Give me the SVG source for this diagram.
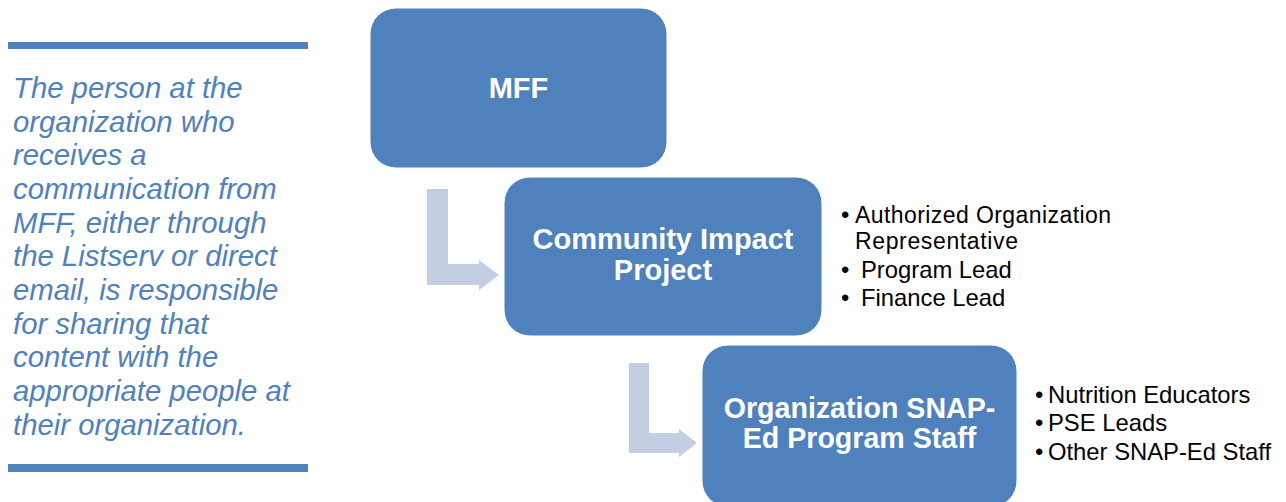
<svg xmlns="http://www.w3.org/2000/svg" width="1286" height="502" viewBox="0 0 1286 502">
<style>
.box{fill:#4F81BD;stroke:#FFFFFF;stroke-width:1}
.bt{font-family:"Liberation Sans",Arial,sans-serif;font-weight:bold;font-size:29px;fill:#FFFFFF;text-anchor:middle}
.arr{fill:#C3CEE2}
.side{font-family:"Liberation Sans",Arial,sans-serif;font-style:italic;font-size:29.3px;fill:#4F81BD}
.bar{fill:#4F81BD}
.li{font-family:"Liberation Sans",Arial,sans-serif;font-size:23.8px;fill:#000000}
</style>
<rect width="1286" height="502" fill="#FFFFFF"/>
<g id="sidebar">
<rect class="bar" x="8" y="42" width="300" height="7"/>
<rect class="bar" x="8" y="464" width="300" height="8"/>
<text class="side" x="13">
<tspan x="13" y="98">The person at the</tspan>
<tspan x="13" y="132">organization who</tspan>
<tspan x="13" y="165">receives a</tspan>
<tspan x="13" y="199">communication from</tspan>
<tspan x="13" y="233">MFF, either through</tspan>
<tspan x="13" y="266">the Listserv or direct</tspan>
<tspan x="13" y="300">email, is responsible</tspan>
<tspan x="13" y="334">for sharing that</tspan>
<tspan x="13" y="367">content with the</tspan>
<tspan x="13" y="401">appropriate people at</tspan>
<tspan x="13" y="435">their organization.</tspan>
</text>
</g>
<g id="connectors">
<path class="arr" d="M427,189 H448 V264 H479 V260 L499,275 L479,290 V285 H427 Z"/>
<path class="arr" d="M629,363 H649 V433 H679 V429 L697,443 L679,457 V453 H629 Z"/>
</g>
<g id="mff">
<rect class="box" x="370" y="8" width="297" height="160" rx="26"/>
<text class="bt" x="518.5" y="98">MFF</text>
</g>
<g id="cip">
<rect class="box" x="504" y="177" width="318" height="159" rx="26"/>
<text class="bt" x="663" y="249">Community Impact</text>
<text class="bt" x="663" y="280">Project</text>
</g>
<g id="snap">
<rect class="box" x="702" y="345" width="315" height="162" rx="26"/>
<text class="bt" x="859.5" y="418" style="font-size:28.6px">Organization SNAP-</text>
<text class="bt" x="859.5" y="448" style="font-size:28.6px">Ed Program Staff</text>
</g>
<g id="cip-list">
<text class="li" x="841" y="223">•</text><text class="li" x="855" y="223" textLength="256" style="font-size:23px">Authorized Organization</text>
<text class="li" x="855" y="249" style="font-size:23px" textLength="163">Representative</text>
<text class="li" x="841" y="278">•</text><text class="li" x="861" y="278">Program Lead</text>
<text class="li" x="841" y="306">•</text><text class="li" x="861" y="306">Finance Lead</text>
</g>
<g id="snap-list">
<text class="li" x="1035" y="403">•</text><text class="li" x="1048" y="403">Nutrition Educators</text>
<text class="li" x="1035" y="431">•</text><text class="li" x="1048" y="431">PSE Leads</text>
<text class="li" x="1035" y="460">•</text><text class="li" x="1048" y="460">Other SNAP-Ed Staff</text>
</g>
</svg>
